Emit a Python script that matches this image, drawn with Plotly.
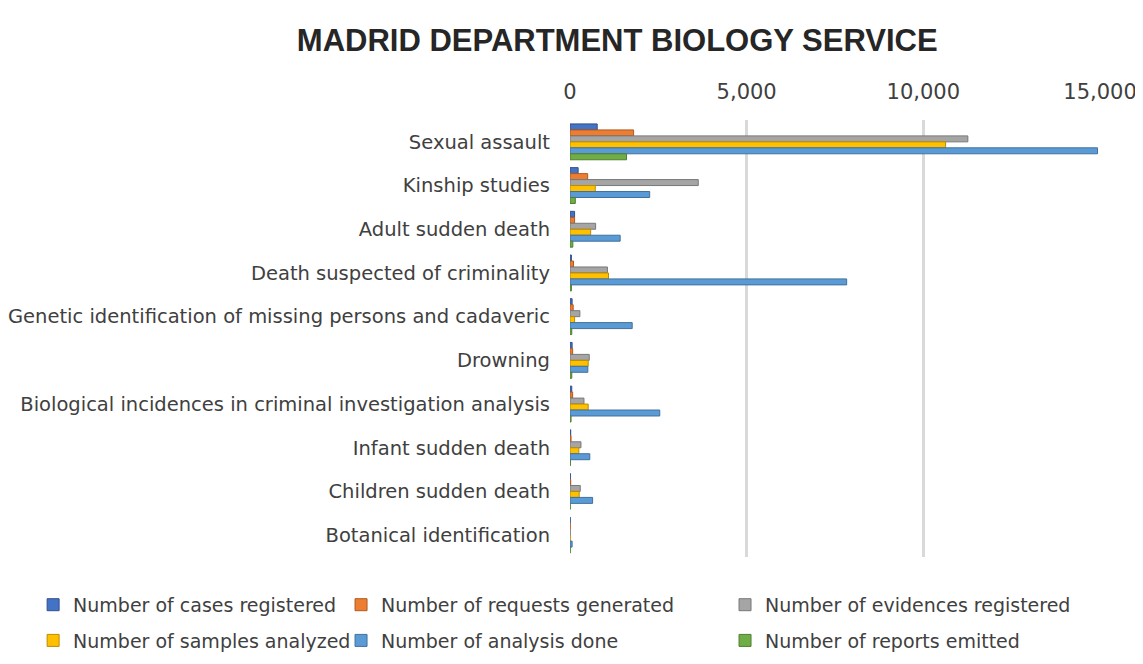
import plotly.graph_objects as go

# categories, top to bottom
categories = [
    "Sexual assault",
    "Kinship studies",
    "Adult sudden death",
    "Death suspected of criminality",
    "Genetic identification of missing persons and cadaveric",
    "Drowning",
    "Biological incidences in criminal investigation analysis",
    "Infant sudden death",
    "Children sudden death",
    "Botanical identification",
]

cases_registered = [770, 230, 130, 40, 60, 60, 50, 20, 10, 5]
requests_generated = [1800, 500, 130, 100, 90, 75, 75, 30, 20, 5]
evidences_registered = [11260, 3630, 725, 1060, 280, 545, 395, 310, 290, 5]
samples_analyzed = [10630, 715, 585, 1090, 130, 515, 515, 250, 260, 5]
analysis_done = [14930, 2255, 1420, 7830, 1760, 505, 2540, 560, 640, 60]
reports_emitted = [1600, 150, 80, 40, 50, 50, 30, 10, 5, 5]

series = [
    ("Number of cases registered", cases_registered, "#4472C4", "#2F528F", "legend"),
    ("Number of requests generated", requests_generated, "#ED7D31", "#AE5A21", "legend2"),
    ("Number of evidences registered", evidences_registered, "#A5A5A5", "#787878", "legend3"),
    ("Number of samples analyzed", samples_analyzed, "#FFC000", "#BC8C00", "legend"),
    ("Number of analysis done", analysis_done, "#5B9BD5", "#41719C", "legend2"),
    ("Number of reports emitted", reports_emitted, "#70AD47", "#507E32", "legend3"),
]

fig = go.Figure()
for i, (name, vals, color, edge, leg) in enumerate(series):
    fig.add_trace(go.Bar(
        y=categories,
        x=vals,
        name=name,
        orientation="h",
        marker=dict(color=color, line=dict(color=edge, width=1)),
        legend=leg,
        legendgroup=str(i),
    ))

legend_font = dict(family="DejaVu Sans, sans-serif", size=19, color="#404040")
legend_common = dict(
    orientation="v",
    yanchor="top",
    y=-0.066,
    font=legend_font,
    tracegroupgap=8,
    bgcolor="rgba(0,0,0,0)",
)

fig.update_layout(
    title=dict(
        text="<b>MADRID DEPARTMENT BIOLOGY SERVICE</b>",
        x=0.533, xanchor="center",
        y=0.952, yanchor="middle",
        font=dict(family="Liberation Sans, Arial, sans-serif", size=31, color="#262626"),
    ),
    barmode="group",
    bargap=0.18,
    bargroupgap=0,
    width=1143,
    height=664,
    margin=dict(l=562, r=51, t=112, b=111),
    paper_bgcolor="white",
    plot_bgcolor="white",
    font=dict(family="DejaVu Sans, sans-serif", size=19.5, color="#404040"),
    xaxis=dict(
        side="top",
        range=[0, 15000],
        tickvals=[0, 5000, 10000, 15000],
        tickformat=",",
        showgrid=True,
        gridcolor="#D9D9D9",
        gridwidth=3,
        zeroline=False,
        showline=False,
        ticks="",
        ticklabelstandoff=16,
        automargin=False,
        tickfont=dict(size=21, color="#404040"),
    ),
    yaxis=dict(
        autorange="reversed",
        showgrid=False,
        showline=False,
        ticks="",
        ticklabelstandoff=19,
        automargin=False,
        tickfont=dict(size=19.5, color="#404040"),
    ),
    legend=dict(x=-1.013, **legend_common),
    legend2=dict(x=-0.432, **legend_common),
    legend3=dict(x=0.2925, **legend_common),
)

fig.write_html("out.html")
